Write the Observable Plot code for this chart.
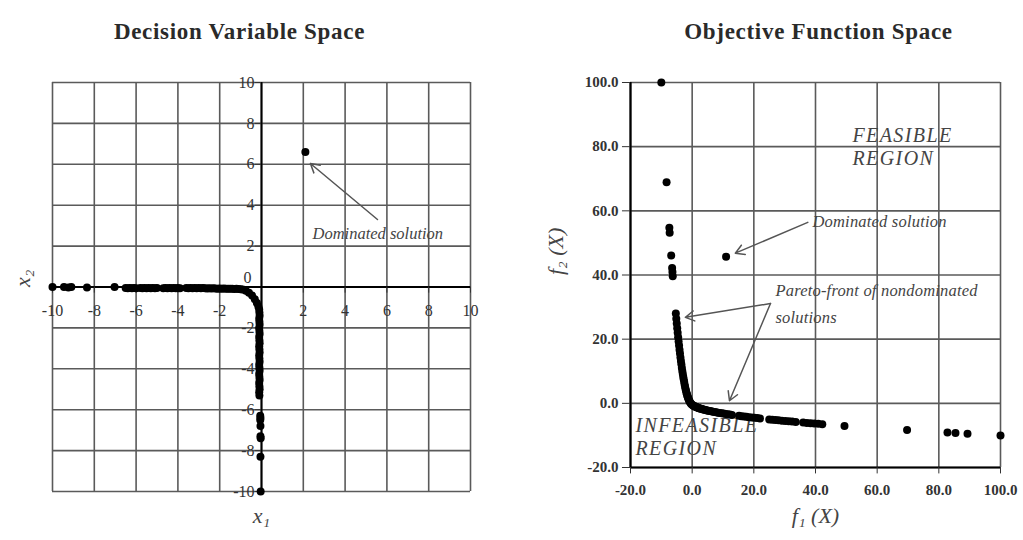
<!DOCTYPE html>
<html>
<head>
<meta charset="utf-8">
<script src="https://cdn.jsdelivr.net/npm/d3@7"></script>
<script src="https://cdn.jsdelivr.net/npm/@observablehq/plot@0.6"></script>
<style>
  html, body { margin: 0; padding: 0; background: #fff; }
  #wrap { display: flex; width: 1023px; height: 540px; overflow: hidden; }
  #wrap svg { display: block; }
</style>
</head>
<body>
<div id="wrap"></div>
<script>
// ---------- Decision variable space (x1, x2) ----------
const decX1 = [
  -10, -9.45, -9.24, -9.1, -8.35, -7.03,
  -6.5, -6.4, -6.3, -6.2, -6.1, -6.0, -5.8, -5.7, -5.6, -5.5, -5.4, -5.3, -5.2, -5.1, -5.0,
  -4.7, -4.6, -4.5, -4.4, -4.3, -4.2, -4.1, -4.0, -3.9,
  -3.6, -3.5, -3.4, -3.3, -3.2, -3.1, -3.0, -2.9, -2.8, -2.7, -2.6, -2.5, -2.4, -2.3, -2.2, -2.1,
  -2.0, -1.9, -1.8, -1.7, -1.6, -1.5, -1.4, -1.3, -1.2, -1.1, -1.0,
  -0.9, -0.75, -0.6, -0.45, -0.32, -0.22, -0.15,
  -0.1, -0.11, -0.09, -0.1, -0.11, -0.09, -0.1, -0.11, -0.09, -0.1, -0.11, -0.09, -0.1, -0.11, -0.09, -0.1,
  -0.11, -0.09, -0.1, -0.11, -0.09, -0.1, -0.11, -0.09, -0.1, -0.11, -0.09, -0.1, -0.11,
  -0.06, -0.05, -0.06, -0.05, -0.05, -0.04, -0.05, -0.04,
  2.1
];
const decX2 = [
  0, 0, -0.02, 0, -0.03, 0,
  -0.05, -0.06, -0.05, -0.06, -0.05, -0.06, -0.05, -0.06, -0.05, -0.06, -0.05, -0.06, -0.05, -0.06, -0.05,
  -0.06, -0.05, -0.06, -0.05, -0.06, -0.05, -0.06, -0.05, -0.06,
  -0.05, -0.06, -0.05, -0.06, -0.05, -0.06, -0.05, -0.06, -0.05, -0.06, -0.07, -0.06, -0.07, -0.06, -0.07, -0.08,
  -0.07, -0.08, -0.07, -0.08, -0.09, -0.08, -0.09, -0.1, -0.09, -0.1, -0.11,
  -0.12, -0.18, -0.28, -0.42, -0.6, -0.78, -0.95,
  -5.3, -5.15, -5.0, -4.85, -4.7, -4.55, -4.4, -4.25, -4.1, -3.95, -3.8, -3.65, -3.5, -3.35, -3.2, -3.05,
  -2.9, -2.75, -2.6, -2.45, -2.3, -2.15, -2.0, -1.85, -1.7, -1.55, -1.4, -1.25, -1.1,
  -6.3, -6.4, -6.5, -6.8, -7.3, -7.4, -8.3, -10,
  6.6
];

// ---------- Objective function space (f1, f2) ----------
const objF1 = [
  100, 89.3, 85.4, 82.8, 69.7, 49.4,
  42.2, 40.9, 39.6, 38.4, 37.2, 36.0, 33.6, 32.4, 31.3, 30.2, 29.1, 28.0, 27.0, 26.0, 25.0,
  22.0, 21.1, 20.2, 19.3, 18.4, 17.6, 16.8, 15.95, 15.2,
  12.91, 12.2, 11.51, 10.84, 10.19, 9.56, 8.95, 8.36, 7.79, 7.24, 6.71, 6.2, 5.71, 5.24, 4.79, 4.36,
  3.95, 3.56, 3.19, 2.84, 2.51, 2.2, 1.91, 1.64, 1.39, 1.16, 0.95,
  0.69, 0.38, 0.08, -0.22, -0.5, -0.73, -0.93,
  -5.3, -5.15, -5.0, -4.85, -4.7, -4.55, -4.4, -4.25, -4.1, -3.95, -3.8, -3.65, -3.5, -3.35, -3.2, -3.05,
  -2.9, -2.75, -2.6, -2.45, -2.3, -2.15, -2.0, -1.85, -1.7, -1.55, -1.4, -1.25, -1.1,
  -6.3, -6.4, -6.5, -6.8, -7.3, -7.4, -8.3, -10,
  11.0
];
const objF2 = [
  -10, -9.45, -9.24, -9.1, -8.35, -7.03,
  -6.5, -6.4, -6.3, -6.2, -6.1, -6.0, -5.8, -5.7, -5.6, -5.5, -5.4, -5.3, -5.2, -5.1, -5.0,
  -4.7, -4.6, -4.5, -4.4, -4.3, -4.2, -4.1, -4.0, -3.9,
  -3.6, -3.5, -3.4, -3.3, -3.2, -3.1, -3.0, -2.9, -2.8, -2.7, -2.6, -2.5, -2.4, -2.3, -2.2, -2.1,
  -2.0, -1.9, -1.8, -1.7, -1.6, -1.5, -1.4, -1.3, -1.2, -1.1, -1.0,
  -0.89, -0.72, -0.52, -0.27, 0.04, 0.39, 0.75,
  28.0, 26.4, 24.9, 23.4, 22.0, 20.6, 19.3, 18.0, 16.7, 15.5, 14.3, 13.2, 12.2, 11.1, 10.1, 9.2,
  8.3, 7.5, 6.7, 5.9, 5.2, 4.5, 3.9, 3.3, 2.8, 2.3, 1.9, 1.5, 1.1,
  39.6, 40.9, 42.2, 46.1, 53.2, 54.7, 68.9, 100,
  45.7
];

// ---------- Tick labels ----------
const decTicks = [-10, -8, -6, -4, -2, 2, 4, 6, 8, 10];
const decGrid = [-10, -8, -6, -4, -2, 0, 2, 4, 6, 8, 10];
const objTicks = [-20, 0, 20, 40, 60, 80, 100];
const objTickLabels = ["-20.0", "0.0", "20.0", "40.0", "60.0", "80.0", "100.0"];

// ---------- Annotations ----------
const decArrows = [{x1: 5.55, y1: 3.3, x2: 2.34, y2: 6.04}];
const decNotes = [{x: 2.44, y: 2.6, text: "Dominated solution"}];
const objArrows = [
  {x1: 37.5, y1: 56.4, x2: 14.0, y2: 46.8},
  {x1: 25.4, y1: 31.1, x2: -2.2, y2: 26.8},
  {x1: 25.4, y1: 31.1, x2: 12.1, y2: 0.8}
];
const objNotes = [
  {x: 39.0, y: 56.7, text: "Dominated solution", size: 16.5, ls: 0.2},
  {x: 27.0, y: 35.2, text: "Pareto-front of nondominated", size: 16.5, ls: 0.2},
  {x: 27.0, y: 26.8, text: "solutions", size: 16.5, ls: 0.2},
  {x: 52.0, y: 83.5, text: "FEASIBLE", size: 20, ls: 1.4},
  {x: 52.0, y: 76.3, text: "REGION", size: 20, ls: 1.4},
  {x: -18.4, y: -6.9, text: "INFEASIBLE", size: 20, ls: 1.4},
  {x: -18.4, y: -14.1, text: "REGION", size: 20, ls: 1.4}
];

const decData = decX1.map((x, i) => ({x, y: decX2[i]}));
const objData = objF1.map((x, i) => ({x, y: objF2[i]}));

const FONT = "'Liberation Serif', 'DejaVu Serif', serif";
const GRID = "#5a5a5a";

const left = Plot.plot({
  width: 512, height: 540,
  marginLeft: 52, marginRight: 42, marginTop: 82, marginBottom: 49,
  x: {domain: [-10, 10], axis: null},
  y: {domain: [-10, 10], axis: null},
  style: {fontFamily: FONT, background: "#fff", overflow: "visible"},
  marks: [
    Plot.ruleX(decGrid, {stroke: GRID, strokeWidth: 1.6}),
    Plot.ruleY(decGrid, {stroke: GRID, strokeWidth: 1.6}),
    Plot.ruleX([0], {stroke: "#000", strokeWidth: 2}),
    Plot.ruleY([0], {stroke: "#000", strokeWidth: 2}),
    Plot.ruleY(decTicks, {x1: -0.3, x2: 0, y: d => d, stroke: "#333", strokeWidth: 1}),
    Plot.ruleX(decTicks, {y1: 0, y2: -0.3, x: d => d, stroke: "#333", strokeWidth: 1}),
    Plot.text(decTicks, {x: d => d, y: 0, dy: 24, text: d => String(d), fontSize: 16, fill: "#333"}),
    Plot.text(decTicks, {x: 0, y: d => d, dx: -7, textAnchor: "end", text: d => String(d), fontSize: 16, fill: "#333"}),
    Plot.text(["0"], {x: 0, y: 0, dx: -10, dy: -9, textAnchor: "end", fontSize: 16, fill: "#333"}),
    Plot.arrow(decArrows, {x1: "x1", y1: "y1", x2: "x2", y2: "y2", stroke: "#555", strokeWidth: 1.5, headLength: 10}),
    Plot.text(decNotes, {x: "x", y: "y", text: "text", textAnchor: "start", fontSize: 16.5, fontStyle: "italic", fill: "#444"}),
    Plot.dot(decData, {x: "x", y: "y", r: 4, fill: "#000"}),
    Plot.text(["Decision Variable Space"], {frameAnchor: "top", dx: -22, dy: -60, fontSize: 23, fontWeight: "bold", fill: "#2a2a2a"}),
    Plot.text(["x₁"], {frameAnchor: "bottom", dy: 31, fontSize: 22, fontStyle: "italic", fill: "#444"}),
    Plot.text(["x₂"], {frameAnchor: "left", dx: -30, rotate: -90, fontSize: 22, fontStyle: "italic", fill: "#444"})
  ]
});

const right = Plot.plot({
  width: 511, height: 540,
  marginLeft: 118, marginRight: 23, marginTop: 82, marginBottom: 73,
  x: {domain: [-20, 100], axis: null},
  y: {domain: [-20, 100], axis: null},
  style: {fontFamily: FONT, background: "#fff", overflow: "visible"},
  marks: [
    Plot.ruleX(objTicks, {stroke: GRID, strokeWidth: 1.6}),
    Plot.ruleY(objTicks, {stroke: GRID, strokeWidth: 1.6}),
    Plot.ruleX([-20], {stroke: "#000", strokeWidth: 2.2}),
    Plot.ruleY([-20], {stroke: "#000", strokeWidth: 2.2}),
    Plot.ruleY(objTicks, {x1: -22.6, x2: -20, y: d => d, stroke: "#333", strokeWidth: 1}),
    Plot.ruleX(objTicks, {y1: -20, y2: -22, x: d => d, stroke: "#333", strokeWidth: 1}),
    Plot.text(objTicks, {x: d => d, y: -20, dy: 23, text: (d, i) => objTickLabels[i], fontSize: 15, fontWeight: "bold", fill: "#333"}),
    Plot.text(objTicks, {x: -20, y: d => d, dx: -12, textAnchor: "end", text: (d, i) => objTickLabels[i], fontSize: 15, fontWeight: "bold", fill: "#333"}),
    Plot.arrow(objArrows, {x1: "x1", y1: "y1", x2: "x2", y2: "y2", stroke: "#555", strokeWidth: 1.5, headLength: 10}),
    Plot.text(objNotes, {x: "x", y: "y", text: "text", textAnchor: "start", fontSize: d => d.size, fontStyle: "italic", fill: "#444"}),
    Plot.dot(objData, {x: "x", y: "y", r: 4, fill: "#000"}),
    Plot.text(["Objective Function Space"], {frameAnchor: "top", dx: 3, dy: -60, fontSize: 23, fontWeight: "bold", fill: "#2a2a2a"}),
    Plot.text(["f₁ (X)"], {frameAnchor: "bottom", dy: 55, fontSize: 22, fontStyle: "italic", fill: "#444"}),
    Plot.text(["f₂ (X)"], {frameAnchor: "left", dx: -75, rotate: -90, fontSize: 22, fontStyle: "italic", fill: "#444"})
  ]
});

// slight letter spacing for the wide Garamond-like look
d3.selectAll([left, right]).selectAll("text").each(function () {
  const t = this.textContent;
  if (t === "Decision Variable Space" || t === "Objective Function Space") this.style.letterSpacing = "0.7px";
});
d3.select(right).selectAll("text").each(function () {
  const n = objNotes.find(o => o.text === this.textContent);
  if (n) this.style.letterSpacing = n.ls + "px";
});

document.getElementById("wrap").append(left, right);
</script>
</body>
</html>
